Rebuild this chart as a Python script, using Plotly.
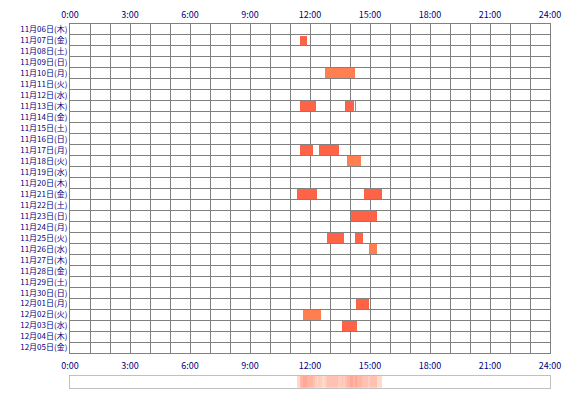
import plotly.graph_objects as go

# 日付（行）
days = ["11月06日(木)", "11月07日(金)", "11月08日(土)", "11月09日(日)", "11月10日(月)",
        "11月11日(火)", "11月12日(水)", "11月13日(木)", "11月14日(金)", "11月15日(土)",
        "11月16日(日)", "11月17日(月)", "11月18日(火)", "11月19日(水)", "11月20日(木)",
        "11月21日(金)", "11月22日(土)", "11月23日(日)", "11月24日(月)", "11月25日(火)",
        "11月26日(水)", "11月27日(木)", "11月28日(金)", "11月29日(土)", "11月30日(日)",
        "12月01日(月)", "12月02日(火)", "12月03日(水)", "12月04日(木)", "12月05日(金)"]

# 時刻目盛り
hour_ticks = [0, 3, 6, 9, 12, 15, 18, 21, 24]
hour_labels = ["0:00", "3:00", "6:00", "9:00", "12:00", "15:00", "18:00", "21:00", "24:00"]

# セッション（開始・終了は時間単位）
sess_day = ["11月07日(金)", "11月13日(木)", "11月13日(木)", "11月13日(木)",
            "11月17日(月)", "11月17日(月)", "11月21日(金)", "11月21日(金)",
            "11月23日(日)", "11月25日(火)", "11月25日(火)", "12月01日(月)",
            "12月03日(水)"]
sess_start = [11.50, 11.50, 13.75, 14.25, 11.50, 12.45, 11.35, 14.70, 14.03, 12.85, 14.27, 14.30, 13.60]
sess_end = [11.85, 12.28, 14.20, 14.30, 12.13, 13.45, 12.33, 15.58, 15.33, 13.68, 14.65, 14.95, 14.35]

# もう一種類（色違い）
sess2_day = ["11月10日(月)", "11月18日(火)", "11月26日(水)", "12月02日(火)"]
sess2_start = [12.75, 13.85, 14.97, 11.65]
sess2_end = [14.25, 14.55, 15.35, 12.55]

GRID = "#808080"
NAVY = "#000080"

fig = go.Figure()

fig.add_trace(go.Bar(y=sess_day, base=sess_start,
                     x=[e - s for s, e in zip(sess_start, sess_end)],
                     orientation="h", width=0.9, marker=dict(color="#ff6347", line_width=0),
                     showlegend=False, xaxis="x", yaxis="y"))
fig.add_trace(go.Bar(y=sess2_day, base=sess2_start,
                     x=[e - s for s, e in zip(sess2_start, sess2_end)],
                     orientation="h", width=0.9, marker=dict(color="#ff7f50", line_width=0),
                     showlegend=False, xaxis="x", yaxis="y"))

# 上側の時刻ラベル用のダミー
fig.add_trace(go.Scatter(x=[0, 24], y=[days[0], days[0]], mode="markers",
                         marker=dict(opacity=0), showlegend=False, hoverinfo="skip",
                         xaxis="x2", yaxis="y"))

# 下の帯：5分ごとの利用日数
all_start = sess_start + sess2_start
all_end = sess_end + sess2_end
bins = [(i + 0.5) / 12 for i in range(288)]
counts = [sum(1 for s, e in zip(all_start, all_end) if s <= b < e) for b in bins]
fig.add_trace(go.Heatmap(x=bins, y=[0], z=[counts], zmin=0, zmax=max(counts),
                         colorscale=[[0, "#ffffff"], [0.001, "#ffe6d6"], [1, "#ffa898"]],
                         showscale=False, hoverinfo="skip", xaxis="x3", yaxis="y3"))

tickfont = dict(family="Noto Sans CJK JP", size=9, color=NAVY)
dayfont = dict(family="Noto Sans CJK JP", size=8, color=NAVY)

# ページ本体の余白(8px)の分だけ図を小さくする
fig.update_layout(
    width=562, height=392,
    margin=dict(l=62, r=20, t=16, b=10),
    paper_bgcolor="white", plot_bgcolor="white",
    font=dict(family="Noto Sans CJK JP", size=9, color=NAVY),
    barmode="overlay", bargap=0,
    xaxis=dict(range=[0, 24], anchor="y", tickmode="array", tickvals=hour_ticks, ticktext=hour_labels,
               showgrid=True, gridcolor=GRID, gridwidth=1, automargin=False, tickfont=tickfont,
               minor=dict(tickmode="array", tickvals=list(range(25)), showgrid=True, gridcolor=GRID, gridwidth=1),
               showline=True, linecolor=GRID, mirror=True, zeroline=False,
               ticks="outside", ticklen=4, tickcolor="rgba(0,0,0,0)"),
    xaxis2=dict(range=[0, 24], overlaying="x", side="top", anchor="y", matches="x",
                tickmode="array", tickvals=hour_ticks, ticktext=hour_labels, automargin=False,
                tickfont=tickfont, showgrid=False, zeroline=False,
                ticks="outside", ticklen=1, tickcolor="rgba(0,0,0,0)"),
    yaxis=dict(domain=[0.101, 1], type="category", categoryorder="array", categoryarray=days,
               tickmode="array", tickvals=days, ticktext=days, automargin=False, tickfont=dayfont,
               range=[29.5, -0.5], tickson="boundaries", showgrid=True, gridcolor=GRID, gridwidth=1,
               showline=True, linecolor=GRID, mirror=True, zeroline=False,
               ticks="outside", ticklen=2, tickcolor="rgba(0,0,0,0)"),
    xaxis3=dict(domain=[0, 1], range=[0, 24], anchor="y3", showticklabels=False, showgrid=False,
                zeroline=False, showline=True, linecolor="#c0c0c0", mirror=True, automargin=False),
    yaxis3=dict(domain=[0.005, 0.039], range=[-0.5, 0.5], anchor="x3", showticklabels=False,
                showgrid=False, zeroline=False, showline=True, linecolor="#c0c0c0", mirror=True,
                automargin=False),
)

fig.write_html("out.html")
